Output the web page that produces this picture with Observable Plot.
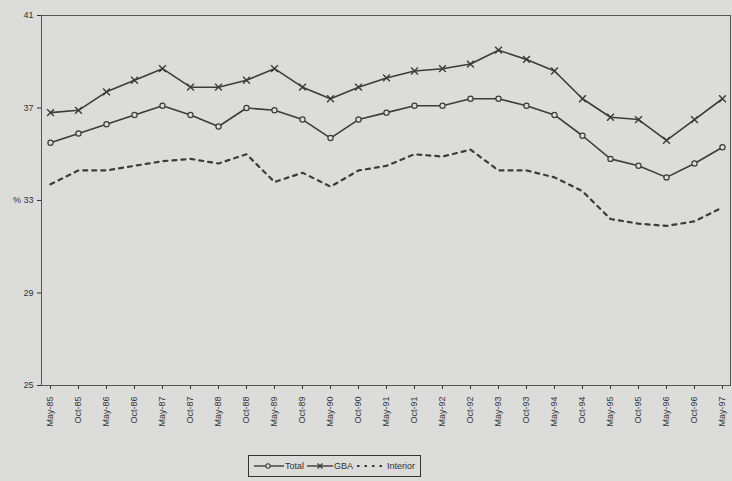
<!DOCTYPE html>
<html>
<head>
<meta charset="utf-8">
<script src="https://cdn.jsdelivr.net/npm/d3@7"></script>
<script src="https://cdn.jsdelivr.net/npm/@observablehq/plot@0.6"></script>
<style>
  html, body { margin: 0; padding: 0; background: #dcdcda; }
  body { width: 732px; height: 481px; overflow: hidden; font-family: "Liberation Sans", Arial, sans-serif; }
  #legend {
    position: absolute; left: 248px; top: 455px;
    border: 1px solid #333; padding: 2px 5px; height: 16px;
    display: flex; align-items: center; gap: 3px;
    font-size: 9px; color: #333; background: #dcdcda;
  }
</style>
</head>
<body>
<div id="chart"></div>
<div id="legend"></div>
<script>
const dates = ["May-85","Oct-85","May-86","Oct-86","May-87","Oct-87","May-88","Oct-88","May-89","Oct-89","May-90","Oct-90","May-91","Oct-91","May-92","Oct-92","May-93","Oct-93","May-94","Oct-94","May-95","Oct-95","May-96","Oct-96","May-97"];
const total = [35.5,35.9,36.3,36.7,37.1,36.7,36.2,37.0,36.9,36.5,35.7,36.5,36.8,37.1,37.1,37.4,37.4,37.1,36.7,35.8,34.8,34.5,34.0,34.6,35.3];
const gba = [36.8,36.9,37.7,38.2,38.7,37.9,37.9,38.2,38.7,37.9,37.4,37.9,38.3,38.6,38.7,38.9,39.5,39.1,38.6,37.4,36.6,36.5,35.6,36.5,37.4];
const interior = [33.7,34.3,34.3,34.5,34.7,34.8,34.6,35.0,33.8,34.2,33.6,34.3,34.5,35.0,34.9,35.2,34.3,34.3,34.0,33.4,32.2,32.0,31.9,32.1,32.7];
const yTicks = [25, 29, 33, 37, 41];

const rows = (vals, s) => dates.map((d, i) => ({date: d, value: vals[i], series: s}));
const tData = rows(total, "Total");
const gData = rows(gba, "GBA");
const iData = rows(interior, "Interior");

const ink = "#3c3c3c";
const chart = Plot.plot({
  width: 732,
  height: 440,
  marginTop: 15,
  marginBottom: 55,
  marginLeft: 41,
  marginRight: 2,
  style: {background: "transparent", fontFamily: "Liberation Sans, Arial, sans-serif", fontSize: "9px", color: "#333"},
  x: {type: "point", domain: dates, padding: 0, label: null, tickRotate: -90, tickSize: 4, tickPadding: 7},
  y: {domain: [25, 41], ticks: yTicks, label: null, tickSize: 4, tickPadding: 4,
      tickFormat: d => d === 33 ? "% 33" : String(d)},
  marks: [
    Plot.frame({stroke: "#555", strokeWidth: 1}),
    Plot.line(iData, {x: "date", y: "value", stroke: ink, strokeWidth: 2.2, strokeDasharray: "4,5"}),
    Plot.line(gData, {x: "date", y: "value", stroke: ink, strokeWidth: 1.6}),
    Plot.dot(gData, {x: "date", y: "value", symbol: "times", r: 3.2, stroke: ink, strokeWidth: 1.4}),
    Plot.line(tData, {x: "date", y: "value", stroke: ink, strokeWidth: 1.6}),
    Plot.dot(tData, {x: "date", y: "value", symbol: "circle", r: 2.6, stroke: ink, fill: "#dcdcda", strokeWidth: 1.2})
  ]
});
document.getElementById("chart").appendChild(chart);

const legend = document.getElementById("legend");
const items = [
  {label: "Total", svg: '<svg width="30" height="10"><line x1="0" y1="5" x2="30" y2="5" stroke="#3c3c3c" stroke-width="1.4"/><circle cx="14" cy="5" r="2.2" fill="#dcdcda" stroke="#3c3c3c" stroke-width="1.1"/></svg>'},
  {label: "GBA", svg: '<svg width="26" height="10"><line x1="0" y1="5" x2="26" y2="5" stroke="#3c3c3c" stroke-width="1.4"/><path d="M10.5,2.5L15.5,7.5M15.5,2.5L10.5,7.5" stroke="#3c3c3c" stroke-width="1.4"/></svg>'},
  {label: "Interior", svg: '<svg width="30" height="10"><line x1="1" y1="5" x2="30" y2="5" stroke="#3c3c3c" stroke-width="2" stroke-dasharray="2.5,5"/></svg>'}
];
for (const it of items) {
  const wrap = document.createElement("span");
  wrap.style.display = "flex"; wrap.style.alignItems = "center";
  wrap.innerHTML = it.svg + '<span style="margin-left:1px">' + it.label + '</span>';
  legend.appendChild(wrap);
}
</script>
</body>
</html>
